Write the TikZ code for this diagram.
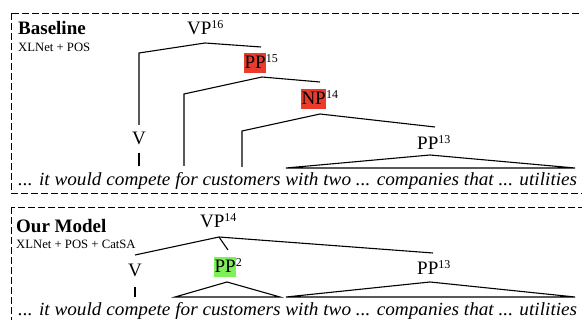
\documentclass[tikz,border=0pt]{standalone}
\usepackage{fontspec}
\usepackage{graphicx}
\setmainfont{Liberation Serif}
\definecolor{hlred}{RGB}{234,60,45}
\definecolor{hlgreen}{RGB}{125,240,90}
\newcommand\supn[1]{\raisebox{6pt}{\fontsize{12}{12}\selectfont #1}}
\newcommand\hlbox[2]{{\setlength\fboxsep{0pt}\colorbox{#1}{\rule[-4pt]{0pt}{20pt}\kern0.3pt#2\kern0.3pt}}}
\newcommand\sentwidth[1]{\resizebox{559pt}{\height}{#1}}
\tikzset{
  cat/.style={inner sep=0pt, anchor=base west, font=\fontsize{19}{20}\selectfont},
  vcat/.style={inner sep=0pt, anchor=base, font=\fontsize{19}{20}\selectfont},
  tree/.style={line width=1.1pt},
  panel/.style={dash pattern=on 7pt off 3pt, line width=0.9pt},
  title/.style={inner sep=0pt, anchor=base west, font=\fontsize{19}{20}\selectfont\bfseries},
  subtitle/.style={inner sep=0pt, anchor=base west, font=\fontsize{12.7}{13}\selectfont},
  sent/.style={inner sep=0pt, anchor=base west, font=\fontsize{18.5}{20}\selectfont\itshape},
}
\begin{document}
\begin{tikzpicture}[x=1pt,y=-1pt]
\useasboundingbox (0,0) rectangle (582,320);
% panels
\draw[panel] (11,13) rectangle (585,193);
\draw[panel] (11,207) rectangle (585,335);

% ---------- Baseline ----------
\node[title] (t1) at (18,35) {Baseline};
\node[subtitle] (s1) at (18,52) {XLNet + POS};

\node[cat] (vp16) at (187,35) {VP\supn{16}};
\node[cat] (pp15) at (244,69) {\hlbox{hlred}{PP}\supn{15}};
\node[cat] (np14) at (301,105) {\hlbox{hlred}{NP}\supn{14}};
\node[cat] (pp13a) at (417,150) {PP\supn{13}};
\node[vcat] (v1) at (139,145) {V};

\coordinate (a16) at (205,43);
\coordinate (l16) at (139,53);
\coordinate (r16) at (261,47);
\coordinate (v1t) at (139,125);
\coordinate (v1b1) at (139,153);
\coordinate (v1b2) at (139,166);
\coordinate (a15) at (262,77);
\coordinate (l15) at (184,94);
\coordinate (l15b) at (184,166);
\coordinate (r15) at (320,82);
\coordinate (a14) at (320,114);
\coordinate (l14) at (242,131);
\coordinate (l14b) at (242,167);
\coordinate (r14) at (435,127);
\coordinate (a13) at (430,155);
\coordinate (b13l) at (286,168);
\coordinate (b13r) at (575,168);

\draw[tree] (v1t) -- (l16) -- (a16) -- (r16);
\draw[tree] (v1b1) -- (v1b2);
\draw[tree] (l15b) -- (l15) -- (a15) -- (r15);
\draw[tree] (l14b) -- (l14) -- (a14) -- (r14);
\draw[tree] (a13) -- (b13l) -- (b13r) -- cycle;

\node[sent] (w1) at (18,186) {\sentwidth{... it would compete for customers with two ... companies that ... utilities}};

% ---------- Our Model ----------
\node[title] (t2) at (16,233) {Our Model};
\node[subtitle] (s2) at (16,249) {XLNet + POS + CatSA};

\node[cat] (vp14) at (200,228) {VP\supn{14}};
\node[vcat] (v2) at (135,277) {V};
\node[cat] (pp2) at (214,273) {\hlbox{hlgreen}{PP}\supn{2}};
\node[cat] (pp13b) at (417,275) {PP\supn{13}};

\coordinate (a14b) at (219,237);
\coordinate (l14c) at (135,255);
\coordinate (r14c) at (433,253);
\coordinate (m14c) at (228,250);
\coordinate (v2b1) at (135,287);
\coordinate (v2b2) at (135,297);
\coordinate (a2) at (227,282);
\coordinate (b2l) at (175,297);
\coordinate (b2r) at (280,297);
\coordinate (a13b) at (430,282);
\coordinate (b13bl) at (286,297);
\coordinate (b13br) at (575,297);

\draw[tree] (l14c) -- (a14b) -- (r14c);
\draw[tree] (a14b) -- (m14c);
\draw[tree] (v2b1) -- (v2b2);
\draw[tree] (a2) -- (b2l) -- (b2r) -- cycle;
\draw[tree] (a13b) -- (b13bl) -- (b13br) -- cycle;

\node[sent] (w2) at (18,316) {\sentwidth{... it would compete for customers with two ... companies that ... utilities}};
\end{tikzpicture}
\end{document}
